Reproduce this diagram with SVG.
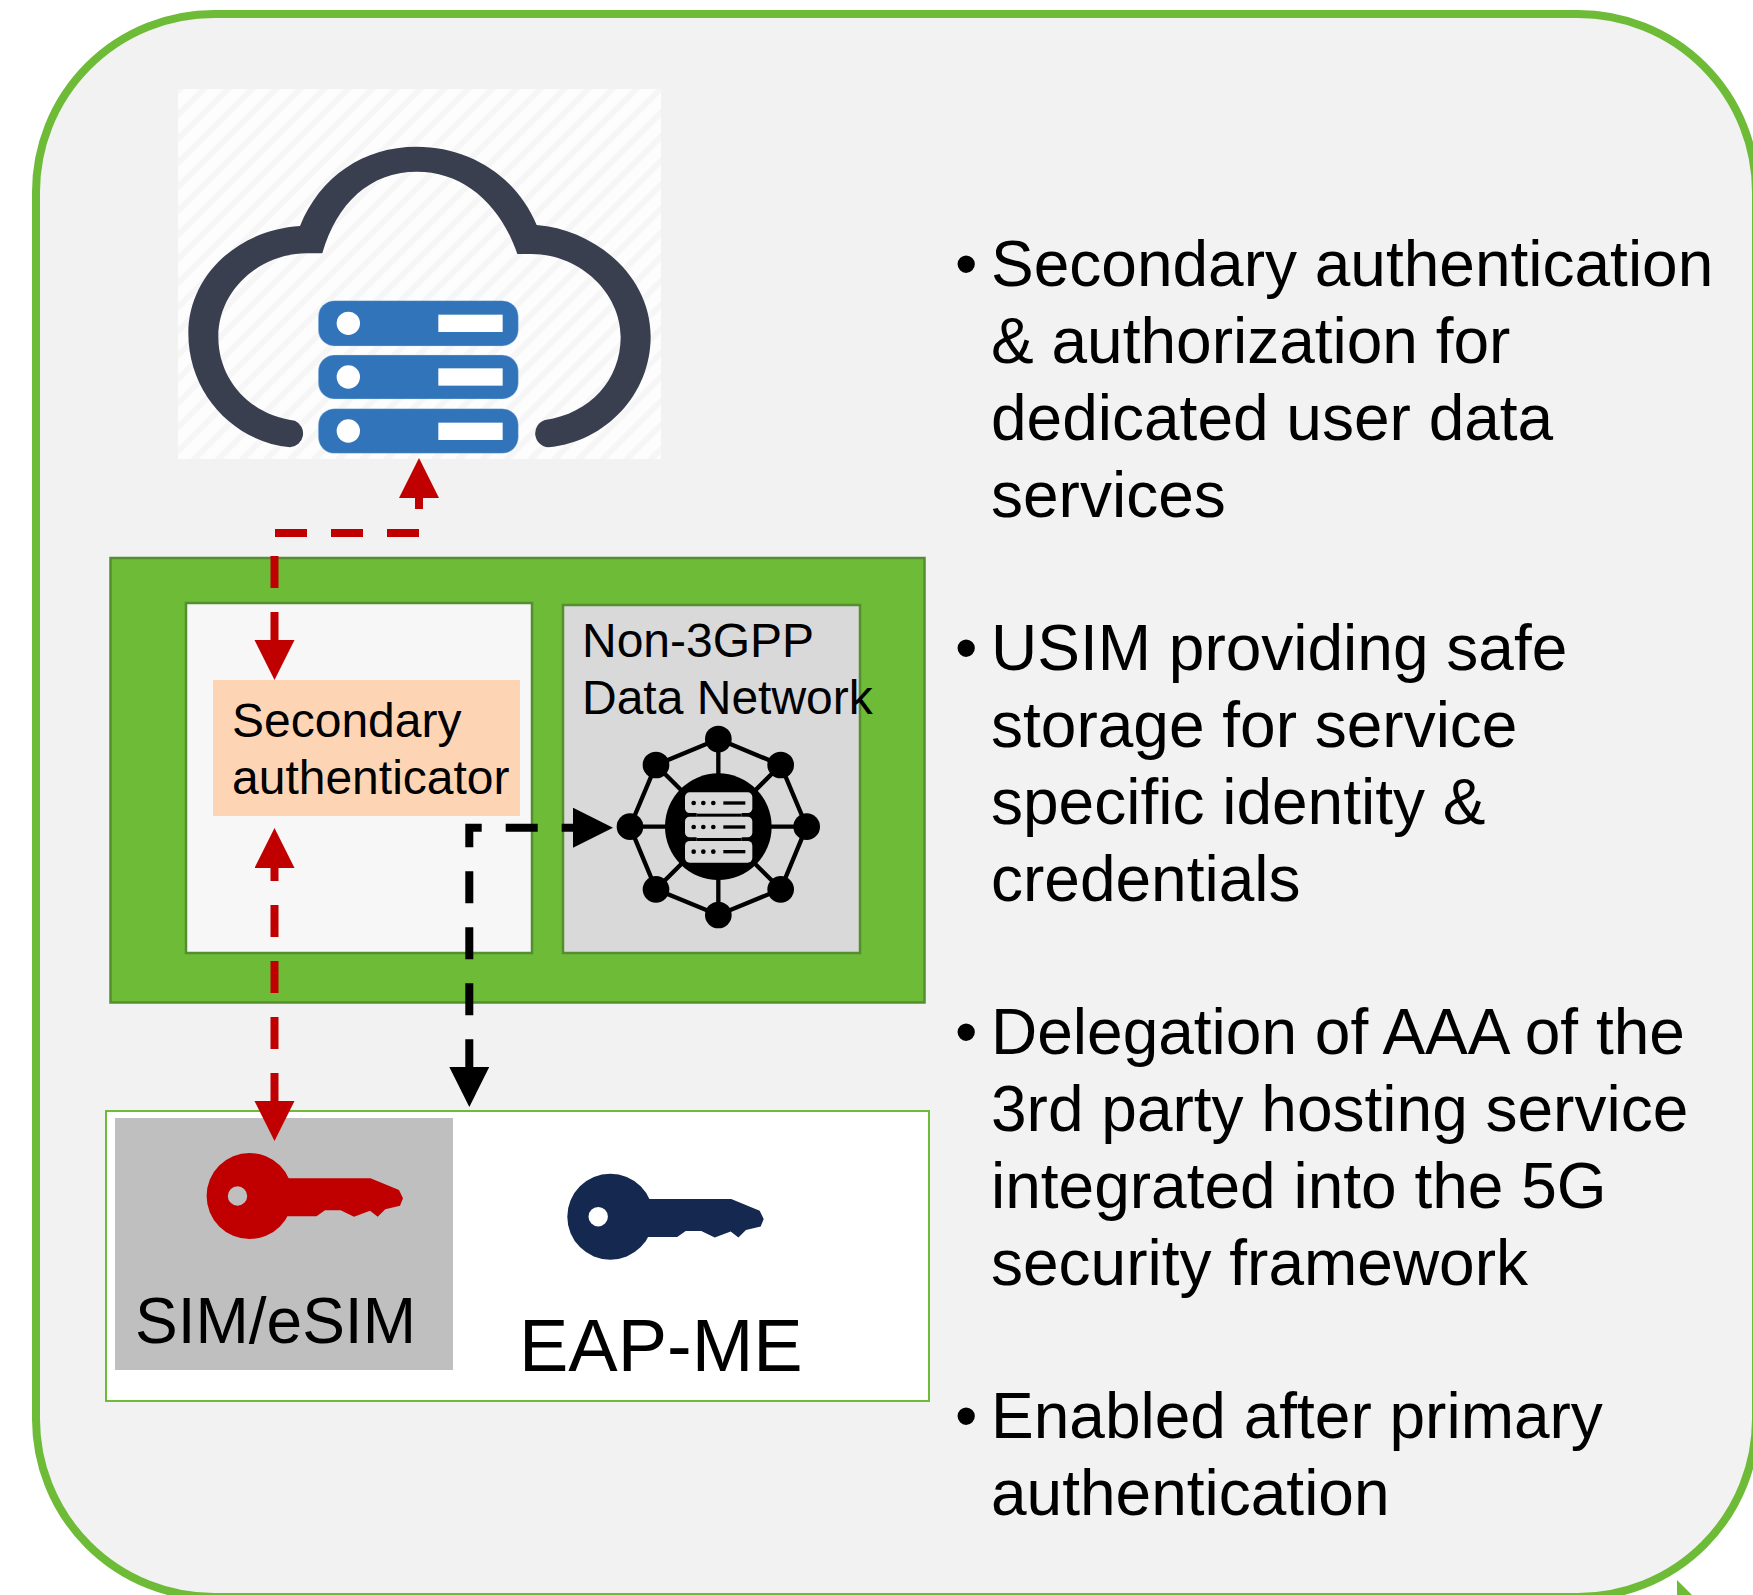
<svg xmlns="http://www.w3.org/2000/svg" width="1753" height="1595" viewBox="0 0 1753 1595">
<style>
text{font-family:"Liberation Sans",Arial,sans-serif;fill:#000}
.box{stroke:#548f2f;stroke-width:2.5}
.bul{font-size:64px}
.small{font-size:48px}
.red{fill:none;stroke:#c00000;stroke-width:8;stroke-dasharray:32 24}
.blk{fill:none;stroke:#000;stroke-width:8;stroke-dasharray:32 24}
.n{fill:#000}
.e{stroke:#000;stroke-width:4.5;fill:none}
.srv{fill:#3274ba;stroke:#bcdcf2;stroke-width:1}
</style>
<defs>
<pattern id="st" width="17" height="17" patternUnits="userSpaceOnUse" patternTransform="rotate(-45)">
<rect width="17" height="17" fill="#fdfdfd"/><rect width="17" height="6" fill="#f6f6f6"/>
</pattern>
<marker id="ar" markerUnits="userSpaceOnUse" markerWidth="42" markerHeight="42" refX="0" refY="20" orient="auto-start-reverse"><path d="M0 0L40 20L0 40Z" fill="#c00000"/></marker>
<marker id="ab" markerUnits="userSpaceOnUse" markerWidth="42" markerHeight="42" refX="0" refY="20" orient="auto-start-reverse"><path d="M0 0L40 20L0 40Z" fill="#000"/></marker>
<g id="key">
<path fill-rule="evenodd" d="M-43 0a43 43 0 1 0 86 0a43 43 0 1 0-86 0ZM-21.8 0a9.7 9.7 0 1 0 19.4 0a9.7 9.7 0 1 0-19.4 0Z"/>
<path d="M30-17.7H120.9L149.4-6L153.4 2.3L150.4 9.7L135.7 13.3L128.1 20.7L120.4 14.7L104.4 20.7L91 14.3L75.4 14.3L66.9 20.3H30Z"/>
</g>
</defs>
<rect width="1753" height="1595" fill="#fff"/>
<g id="frame">
<rect x="36" y="14" width="1720" height="1583" rx="178" ry="178" fill="#f2f2f2" stroke="#6dbb36" stroke-width="8"/>
<path d="M1677 1580L1692 1595H1677Z" fill="#6dbb36"/>
</g>
<g id="cloud">
<rect x="178" y="89" width="483" height="370" fill="url(#st)"/>
<g transform="translate(160 70) scale(.33333)">
<path fill="#3a3f50" d="M390 1132C220 1115 85 970 85 790C85 620 230 480 420 468C480 320 610 230 770 230C930 230 1070 320 1130 465C1310 480 1472 620 1472 800C1472 970 1340 1115 1165 1132A42 42 0 0 1 1155 1050C1290 1030 1382 930 1382 800C1382 670 1260 550 1110 552L1072 552C1020 400 910 305 770 305C630 305 530 400 487 550L440 550C300 550 175 660 175 800C175 930 270 1035 405 1052A42 42 0 0 1 390 1132Z"/>
<rect class="srv" x="475" y="692" width="600" height="136" rx="48"/>
<rect class="srv" x="475" y="855" width="600" height="132" rx="48"/>
<rect class="srv" x="475" y="1016" width="600" height="134" rx="48"/>
<g fill="#fff">
<circle cx="565" cy="760" r="35"/><circle cx="565" cy="921" r="35"/><circle cx="565" cy="1083" r="35"/>
<rect x="835" y="734" width="193" height="52"/><rect x="835" y="895" width="193" height="52"/><rect x="835" y="1058" width="193" height="52"/>
</g>
</g>
</g>
<g id="outer-green"><rect class="box" x="110.5" y="558" width="814" height="444.5" fill="#6dbb36"/></g>
<g id="host"><rect class="box" x="186" y="603" width="346" height="350" fill="#f7f7f7"/></g>
<g id="secondary-authenticator">
<rect x="213" y="680" width="307" height="136" fill="#fdd5b4"/>
<text class="small" x="232" y="737">Secondary</text>
<text class="small" x="232" y="794">authenticator</text>
</g>
<g id="data-network">
<rect class="box" x="563" y="605" width="297" height="348" fill="#d9d9d9"/>
<text class="small" x="582" y="657">Non-3GPP</text>
<text class="small" x="582" y="714">Data Network</text>
<g transform="translate(540 590) scale(.33333)">
<g class="e" style="stroke-width:13">
<path d="M535 447L722 525L800 710L722 898L535 975L348 898L270 710L348 525Z"/>
<path d="M535 447V975M270 710H800M348 525L722 898M722 525L348 898"/>
</g>
<g class="n">
<circle cx="535" cy="710" r="160"/>
<circle cx="535" cy="447" r="40"/><circle cx="535" cy="975" r="40"/><circle cx="270" cy="710" r="40"/><circle cx="800" cy="710" r="40"/>
<circle cx="348" cy="525" r="40"/><circle cx="722" cy="525" r="40"/><circle cx="348" cy="898" r="40"/><circle cx="722" cy="898" r="40"/>
</g>
<g fill="#d9d9d9">
<rect x="435" y="607" width="202" height="62" rx="14"/><rect x="435" y="680" width="202" height="62" rx="14"/><rect x="435" y="753" width="202" height="65" rx="14"/>
<rect x="470" y="668" width="135" height="14"/><rect x="470" y="741" width="135" height="14"/>
</g>
<g class="n">
<circle cx="461" cy="639" r="7"/><circle cx="490" cy="639" r="7"/><circle cx="520" cy="639" r="7"/><rect x="550" y="634" width="66" height="10"/>
<circle cx="461" cy="711" r="7"/><circle cx="490" cy="711" r="7"/><circle cx="520" cy="711" r="7"/><rect x="550" y="706" width="66" height="10"/>
<circle cx="461" cy="785" r="7"/><circle cx="490" cy="785" r="7"/><circle cx="520" cy="785" r="7"/><rect x="550" y="780" width="66" height="10"/>
<rect x="470" y="671" width="135" height="9"/><rect x="470" y="744" width="135" height="9"/>
</g>
</g>
</g>
<g id="ue">
<rect x="106" y="1111" width="823" height="290" fill="#fff" stroke="#6dbb36" stroke-width="2"/>
</g>
<g id="sim">
<rect x="115" y="1118" width="338" height="252" fill="#bfbfbf"/>
<use href="#key" x="249.6" y="1196" fill="#c00000"/>
<text x="135" y="1343" font-size="64">SIM/eSIM</text>
</g>
<g id="eap-me">
<use href="#key" x="610.3" y="1216.7" fill="#15284f"/>
<text x="519" y="1371" font-size="74">EAP-ME</text>
</g>
<g id="connectors">
<path class="red" d="M275 533H419V498" marker-end="url(#ar)"/>
<path class="red" d="M274.5 556V640" marker-end="url(#ar)"/>
<path class="red" d="M274.5 1101V868" stroke-dashoffset="4" marker-start="url(#ar)" marker-end="url(#ar)"/>
<path class="blk" d="M573 827.7H469.3V1067" stroke-dashoffset="20.7" marker-start="url(#ab)" marker-end="url(#ab)"/>
</g>
<g id="bullets">
<text class="bul" x="955" y="286">•</text>
<text class="bul" x="991" y="286">Secondary authentication</text>
<text class="bul" x="991" y="363">&amp; authorization for</text>
<text class="bul" x="991" y="440">dedicated user data</text>
<text class="bul" x="991" y="517">services</text>
<text class="bul" x="955" y="670">•</text>
<text class="bul" x="991" y="670">USIM providing safe</text>
<text class="bul" x="991" y="747">storage for service</text>
<text class="bul" x="991" y="824">specific identity &amp;</text>
<text class="bul" x="991" y="901">credentials</text>
<text class="bul" x="955" y="1054">•</text>
<text class="bul" x="991" y="1054">Delegation of AAA of the</text>
<text class="bul" x="991" y="1131">3rd party hosting service</text>
<text class="bul" x="991" y="1208">integrated into the 5G</text>
<text class="bul" x="991" y="1285">security framework</text>
<text class="bul" x="955" y="1438">•</text>
<text class="bul" x="991" y="1438">Enabled after primary</text>
<text class="bul" x="991" y="1515">authentication</text>
</g>
</svg>
